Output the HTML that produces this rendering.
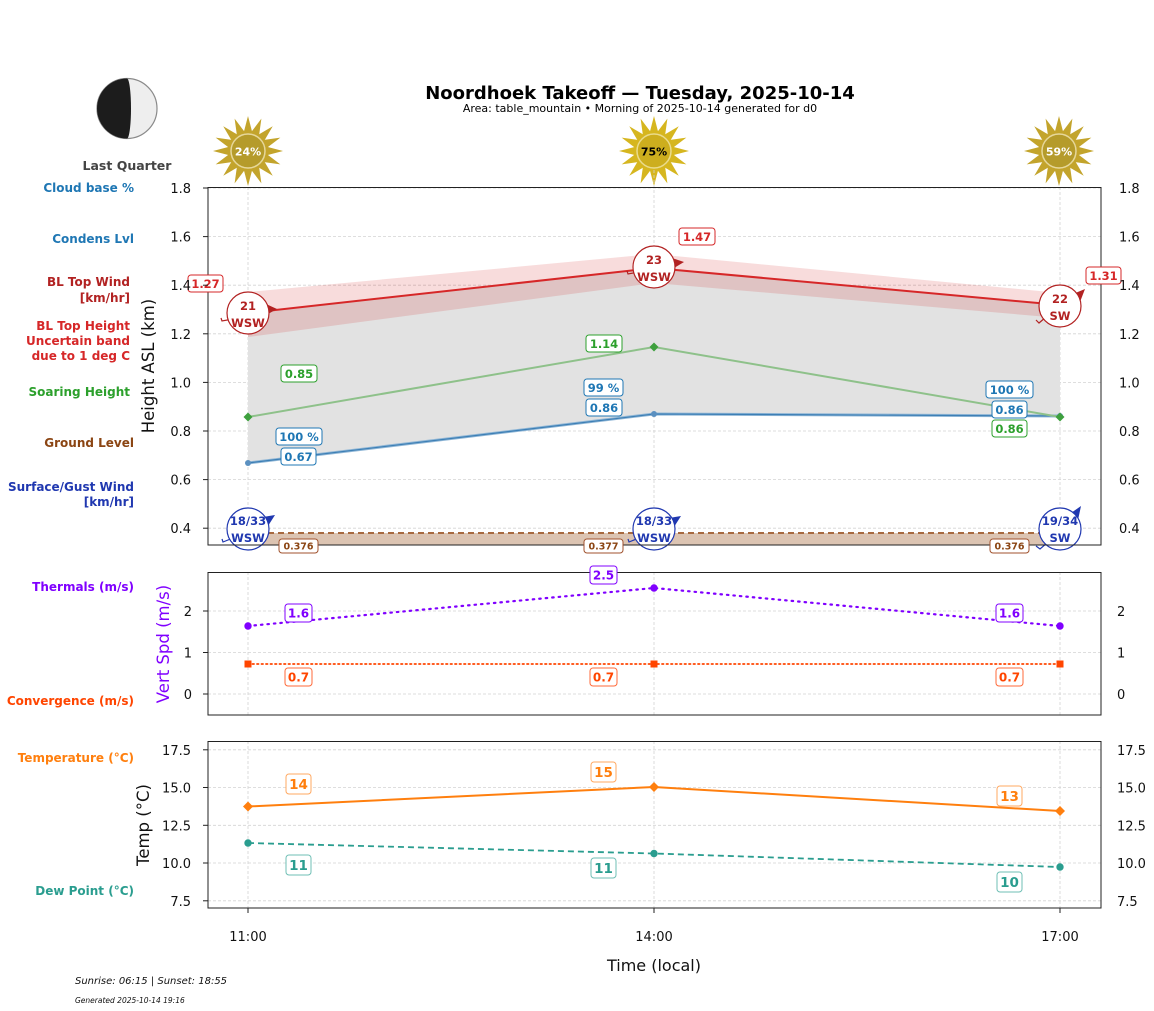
<!DOCTYPE html>
<html><head><meta charset="utf-8"><style>
html,body{margin:0;padding:0;background:#fff;}
svg{display:block;font-family:"DejaVu Sans","Liberation Sans",sans-serif;}
.b{font-weight:bold;}
</style></head><body>
<svg width="1154" height="1011" viewBox="0 0 1154 1011" xmlns="http://www.w3.org/2000/svg">
<defs>
<polygon id="ray" points="0,-35 -5.2,-15 5.2,-15"/>
<g id="rays">
<use href="#ray" transform="rotate(0)"/><use href="#ray" transform="rotate(22.5)"/><use href="#ray" transform="rotate(45)"/><use href="#ray" transform="rotate(67.5)"/>
<use href="#ray" transform="rotate(90)"/><use href="#ray" transform="rotate(112.5)"/><use href="#ray" transform="rotate(135)"/><use href="#ray" transform="rotate(157.5)"/>
<use href="#ray" transform="rotate(180)"/><use href="#ray" transform="rotate(202.5)"/><use href="#ray" transform="rotate(225)"/><use href="#ray" transform="rotate(247.5)"/>
<use href="#ray" transform="rotate(270)"/><use href="#ray" transform="rotate(292.5)"/><use href="#ray" transform="rotate(315)"/><use href="#ray" transform="rotate(337.5)"/>
</g>
</defs>

<!-- Title -->
<text x="640" y="99" text-anchor="middle" class="b" font-size="18">Noordhoek Takeoff — Tuesday, 2025-10-14</text>
<text x="640" y="112" text-anchor="middle" font-size="11">Area: table_mountain • Morning of 2025-10-14 generated for d0</text>

<!-- Moon -->
<circle cx="127" cy="108.5" r="30" fill="#eeeeee" stroke="#8a8a8a" stroke-width="1.2"/>
<path d="M127,78.5 A30,30 0 0 0 127,138.5 A4,30 0 0 0 127,78.5 Z" fill="#1c1c1c"/>
<text x="127" y="170" text-anchor="middle" class="b" font-size="12.5" fill="#444">Last Quarter</text>

<!-- Suns -->
<g transform="translate(248,151)"><use href="#rays" fill="#c3a42c"/><circle r="17" fill="#b59b2b" stroke="#e6d79a" stroke-width="1.5"/><text y="4.5" text-anchor="middle" class="b" font-size="11" fill="#fff">24%</text></g>
<g transform="translate(654,151)"><use href="#rays" fill="#d6b61f"/><circle r="17" fill="#cdae1e" stroke="#eadb8c" stroke-width="1.5"/><text y="4.5" text-anchor="middle" class="b" font-size="11" fill="#000">75%</text></g>
<g transform="translate(1059,151)"><use href="#rays" fill="#c3a42c"/><circle r="17" fill="#b59b2b" stroke="#e6d79a" stroke-width="1.5"/><text y="4.5" text-anchor="middle" class="b" font-size="11" fill="#fff">59%</text></g>

<!-- Left labels -->
<g class="b" font-size="12" text-anchor="end">
<text x="134" y="192" fill="#1f77b4">Cloud base %</text>
<text x="134" y="243" fill="#1f77b4">Condens Lvl</text>
<text x="130" y="286" fill="#b22222">BL Top Wind</text>
<text x="130" y="302" fill="#b22222">[km/hr]</text>
<text x="130" y="330" fill="#d62728">BL Top Height</text>
<text x="130" y="345" fill="#d62728">Uncertain band</text>
<text x="130" y="360" fill="#d62728">due to 1 deg C</text>
<text x="130" y="396" fill="#2ca02c">Soaring Height</text>
<text x="134" y="447" fill="#8b4513">Ground Level</text>
<text x="134" y="491" fill="#2038b0">Surface/Gust Wind</text>
<text x="134" y="506" fill="#2038b0">[km/hr]</text>
<text x="134" y="591" fill="#8000ff">Thermals (m/s)</text>
<text x="134" y="705" fill="#ff4500">Convergence (m/s)</text>
<text x="134" y="762" fill="#ff7f0e">Temperature (°C)</text>
<text x="134" y="895" fill="#2a9d8f">Dew Point (°C)</text>
</g>

<!-- ============ MAIN PANEL ============ -->
<g stroke="#d3d3d3" stroke-width="0.8" stroke-dasharray="3,2" fill="none">
<line x1="208" x2="1101" y1="188" y2="188"/><line x1="208" x2="1101" y1="236.6" y2="236.6"/><line x1="208" x2="1101" y1="285.2" y2="285.2"/>
<line x1="208" x2="1101" y1="333.8" y2="333.8"/><line x1="208" x2="1101" y1="382.4" y2="382.4"/><line x1="208" x2="1101" y1="431" y2="431"/>
<line x1="208" x2="1101" y1="479.6" y2="479.6"/><line x1="208" x2="1101" y1="528.2" y2="528.2"/>
<line x1="248" x2="248" y1="187" y2="545"/><line x1="654" x2="654" y1="170" y2="545"/><line x1="1060" x2="1060" y1="187" y2="545"/>
</g>
<polygon points="248,313 654,268 1060,305 1060,416 654,414 248,463" fill="#e2e2e2"/>
<polygon points="248,292 654,254 1060,293 1060,318 654,283 248,337" fill="#d62728" fill-opacity="0.16"/>
<rect x="248" y="533" width="812" height="12" fill="#dcc4b2"/>
<line x1="248" x2="1060" y1="533" y2="533" stroke="#a7693f" stroke-width="2" stroke-dasharray="6,4"/>
<polyline points="248,463 654,414 1060,416" fill="none" stroke="#8fb6d6" stroke-width="3"/>
<polyline points="248,463 654,414 1060,416" fill="none" stroke="#3d7fb5" stroke-width="1.2"/>
<circle cx="248" cy="463" r="3" fill="#5b90c0"/><circle cx="654" cy="414" r="3" fill="#5b90c0"/><circle cx="1060" cy="416" r="3" fill="#5b90c0"/>
<polyline points="248,417 654,347 1060,417" fill="none" stroke="#8ec18a" stroke-width="2"/>
<g fill="#3ea03e"><polygon points="248,412.5 252.5,417 248,421.5 243.5,417"/><polygon points="654,342.5 658.5,347 654,351.5 649.5,347"/><polygon points="1060,412.5 1064.5,417 1060,421.5 1055.5,417"/></g>
<polyline points="248,313 654,268 1060,305" fill="none" stroke="#d62728" stroke-width="2"/>

<g stroke="#b22222" stroke-width="1.2" fill="none">
<polyline points="221,318 222,321 233,319"/>
<polyline points="627,271 628,274 639,272"/>
<polyline points="1036,320 1039,323 1046,317"/>
</g>
<g fill="#b22222">
<polygon points="277,309 266,304 268,314"/>
<polygon points="684,262 672,258 674,268"/>
<polygon points="1085,289 1073,294 1080,302"/>
</g>
<g stroke="#b22222" stroke-width="1.2" fill="#fff">
<circle cx="248" cy="313" r="21"/><circle cx="654" cy="267" r="21"/><circle cx="1060" cy="306" r="21"/>
</g>
<g class="b" font-size="11.5" fill="#b22222" text-anchor="middle">
<text x="248" y="310">21</text><text x="248" y="327">WSW</text>
<text x="654" y="264">23</text><text x="654" y="281">WSW</text>
<text x="1060" y="303">22</text><text x="1060" y="320">SW</text>
</g>

<g stroke="#2038b0" stroke-width="1.2" fill="none">
<polyline points="222,539 223,542 233,538"/>
<polyline points="628,539 629,542 639,538"/>
<polyline points="1036,546 1040,549 1047,543"/>
</g>
<g fill="#2038b0">
<polygon points="275,515 263,517 268,526"/>
<polygon points="681,516 669,518 674,527"/>
<polygon points="1081,506 1071,513 1078,520"/>
</g>
<g stroke="#2038b0" stroke-width="1.2" fill="#fff">
<circle cx="248" cy="529" r="21"/><circle cx="654" cy="529" r="21"/><circle cx="1060" cy="529" r="21"/>
</g>
<g class="b" font-size="11.5" fill="#2038b0" text-anchor="middle">
<text x="248" y="525">18/33</text><text x="248" y="542">WSW</text>
<text x="654" y="525">18/33</text><text x="654" y="542">WSW</text>
<text x="1060" y="525">19/34</text><text x="1060" y="542">SW</text>
</g>

<rect x="208" y="187.5" width="893" height="357.5" fill="none" stroke="#222" stroke-width="1"/>

<g class="b" font-size="11.5" text-anchor="middle">
<rect x="188" y="275" width="35" height="17" rx="3" fill="#fff" stroke="#d62728"/><text x="205.5" y="288" fill="#d62728">1.27</text>
<rect x="679" y="228" width="36" height="17" rx="3" fill="#fff" stroke="#d62728"/><text x="697" y="241" fill="#d62728">1.47</text>
<rect x="1086" y="267" width="35" height="17" rx="3" fill="#fff" stroke="#d62728"/><text x="1103.5" y="280" fill="#d62728">1.31</text>

<rect x="281" y="365" width="36" height="17" rx="3" fill="#fff" stroke="#2ca02c"/><text x="299" y="378" fill="#2ca02c">0.85</text>
<rect x="586" y="335" width="36" height="17" rx="3" fill="#fff" stroke="#2ca02c"/><text x="604" y="348" fill="#2ca02c">1.14</text>
<rect x="992" y="420" width="35" height="17" rx="3" fill="#fff" stroke="#2ca02c"/><text x="1009.5" y="433" fill="#2ca02c">0.86</text>

<rect x="276" y="428" width="46" height="17" rx="3" fill="#fff" stroke="#1f77b4"/><text x="299" y="441" fill="#1f77b4">100 %</text>
<rect x="281" y="448" width="35" height="17" rx="3" fill="#fff" stroke="#1f77b4"/><text x="298.5" y="461" fill="#1f77b4">0.67</text>
<rect x="584" y="379" width="39" height="17" rx="3" fill="#fff" stroke="#1f77b4"/><text x="603.5" y="392" fill="#1f77b4">99 %</text>
<rect x="586" y="399" width="36" height="17" rx="3" fill="#fff" stroke="#1f77b4"/><text x="604" y="412" fill="#1f77b4">0.86</text>
<rect x="986" y="381" width="47" height="17" rx="3" fill="#fff" stroke="#1f77b4"/><text x="1009.5" y="394" fill="#1f77b4">100 %</text>
<rect x="992" y="401" width="35" height="17" rx="3" fill="#fff" stroke="#1f77b4"/><text x="1009.5" y="414" fill="#1f77b4">0.86</text>
</g>
<g class="b" font-size="9.5" text-anchor="middle" fill="#8b4513">
<rect x="279" y="539" width="39" height="14" rx="3" fill="#fff" stroke="#a0522d"/><text x="298.5" y="549.5">0.376</text>
<rect x="584" y="539" width="39" height="14" rx="3" fill="#fff" stroke="#a0522d"/><text x="603.5" y="549.5">0.377</text>
<rect x="990" y="539" width="39" height="14" rx="3" fill="#fff" stroke="#a0522d"/><text x="1009.5" y="549.5">0.376</text>
</g>

<g stroke="#222" stroke-width="1">
<line x1="203" x2="208" y1="188" y2="188"/><line x1="203" x2="208" y1="236.6" y2="236.6"/><line x1="203" x2="208" y1="285.2" y2="285.2"/>
<line x1="203" x2="208" y1="333.8" y2="333.8"/><line x1="203" x2="208" y1="382.4" y2="382.4"/><line x1="203" x2="208" y1="431" y2="431"/>
<line x1="203" x2="208" y1="479.6" y2="479.6"/><line x1="203" x2="208" y1="528.2" y2="528.2"/>
</g>
<g font-size="13" fill="#111">
<g text-anchor="end">
<text x="191" y="193">1.8</text><text x="191" y="241.6">1.6</text><text x="191" y="290.2">1.4</text><text x="191" y="338.8">1.2</text>
<text x="191" y="387.4">1.0</text><text x="191" y="436">0.8</text><text x="191" y="484.6">0.6</text><text x="191" y="533.2">0.4</text>
</g>
<text x="1119" y="193">1.8</text><text x="1119" y="241.6">1.6</text><text x="1119" y="290.2">1.4</text><text x="1119" y="338.8">1.2</text>
<text x="1119" y="387.4">1.0</text><text x="1119" y="436">0.8</text><text x="1119" y="484.6">0.6</text><text x="1119" y="533.2">0.4</text>
</g>
<text transform="translate(154,366) rotate(-90)" text-anchor="middle" font-size="16.5" fill="#111">Height ASL (km)</text>

<!-- ============ PANEL 2 ============ -->
<g stroke="#d3d3d3" stroke-width="0.8" stroke-dasharray="3,2" fill="none">
<line x1="208" x2="1101" y1="611" y2="611"/><line x1="208" x2="1101" y1="652.5" y2="652.5"/><line x1="208" x2="1101" y1="694" y2="694"/>
<line x1="248" x2="248" y1="572" y2="715"/><line x1="654" x2="654" y1="572" y2="715"/><line x1="1060" x2="1060" y1="572" y2="715"/>
</g>
<polyline points="248,626 654,588 1060,626" fill="none" stroke="#8000ff" stroke-width="2.2" stroke-dasharray="1.5,5" stroke-linecap="round"/>
<g fill="#8000ff"><circle cx="248" cy="626" r="3.7"/><circle cx="654" cy="588" r="3.7"/><circle cx="1060" cy="626" r="3.7"/></g>
<line x1="248" x2="1060" y1="664" y2="664" stroke="#ff4500" stroke-width="1.8" stroke-dasharray="1.5,3" stroke-linecap="round"/>
<g fill="#ff4500"><rect x="244.5" y="660.5" width="7" height="7"/><rect x="650.5" y="660.5" width="7" height="7"/><rect x="1056.5" y="660.5" width="7" height="7"/></g>
<rect x="208" y="572.5" width="893" height="142.5" fill="none" stroke="#222" stroke-width="1"/>
<g class="b" font-size="12" text-anchor="middle">
<rect x="285" y="604" width="27" height="18" rx="3" fill="#fff" stroke="#8000ff"/><text x="298.5" y="617.5" fill="#8000ff">1.6</text>
<rect x="590" y="566" width="27" height="18" rx="3" fill="#fff" stroke="#8000ff"/><text x="603.5" y="579.5" fill="#8000ff">2.5</text>
<rect x="996" y="604" width="27" height="18" rx="3" fill="#fff" stroke="#8000ff"/><text x="1009.5" y="617.5" fill="#8000ff">1.6</text>
<rect x="285" y="668" width="27" height="18" rx="3" fill="#fff" stroke="#ff6a3a"/><text x="298.5" y="681.5" fill="#ff4500">0.7</text>
<rect x="590" y="668" width="27" height="18" rx="3" fill="#fff" stroke="#ff6a3a"/><text x="603.5" y="681.5" fill="#ff4500">0.7</text>
<rect x="996" y="668" width="27" height="18" rx="3" fill="#fff" stroke="#ff6a3a"/><text x="1009.5" y="681.5" fill="#ff4500">0.7</text>
</g>
<g stroke="#222"><line x1="203" x2="208" y1="611" y2="611"/><line x1="203" x2="208" y1="652.5" y2="652.5"/><line x1="203" x2="208" y1="694" y2="694"/></g>
<g font-size="13" fill="#111">
<text x="192" y="616" text-anchor="end">2</text><text x="192" y="657.5" text-anchor="end">1</text><text x="192" y="699" text-anchor="end">0</text>
<text x="1117" y="616">2</text><text x="1117" y="657.5">1</text><text x="1117" y="699">0</text>
</g>
<text transform="translate(169,644) rotate(-90)" text-anchor="middle" font-size="16.5" fill="#8000ff">Vert Spd (m/s)</text>

<!-- ============ PANEL 3 ============ -->
<g stroke="#d3d3d3" stroke-width="0.8" stroke-dasharray="3,2" fill="none">
<line x1="208" x2="1101" y1="749.8" y2="749.8"/><line x1="208" x2="1101" y1="787.5" y2="787.5"/><line x1="208" x2="1101" y1="825.3" y2="825.3"/>
<line x1="208" x2="1101" y1="863" y2="863"/><line x1="208" x2="1101" y1="900.8" y2="900.8"/>
<line x1="248" x2="248" y1="741" y2="908"/><line x1="654" x2="654" y1="741" y2="908"/><line x1="1060" x2="1060" y1="741" y2="908"/>
</g>
<polyline points="248,806.5 654,787 1060,811" fill="none" stroke="#ff7f0e" stroke-width="2"/>
<g fill="#ff7f0e"><polygon points="248,801.5 253,806.5 248,811.5 243,806.5"/><polygon points="654,782 659,787 654,792 649,787"/><polygon points="1060,806 1065,811 1060,816 1055,811"/></g>
<polyline points="248,843 654,853.5 1060,867" fill="none" stroke="#2a9d8f" stroke-width="1.8" stroke-dasharray="6,4"/>
<g fill="#2a9d8f"><circle cx="248" cy="843" r="3.7"/><circle cx="654" cy="853.5" r="3.7"/><circle cx="1060" cy="867" r="3.7"/></g>
<rect x="208" y="741.5" width="893" height="166.5" fill="none" stroke="#222" stroke-width="1"/>
<g class="b" font-size="13.5" text-anchor="middle">
<rect x="286" y="774" width="25" height="20" rx="3" fill="#fff" stroke="#ffa860"/><text x="298.5" y="789" fill="#ff7f0e">14</text>
<rect x="591" y="762" width="25" height="20" rx="3" fill="#fff" stroke="#ffa860"/><text x="603.5" y="777" fill="#ff7f0e">15</text>
<rect x="997" y="786" width="25" height="20" rx="3" fill="#fff" stroke="#ffa860"/><text x="1009.5" y="801" fill="#ff7f0e">13</text>
<rect x="286" y="855" width="25" height="20" rx="3" fill="#fff" stroke="#6fbfb5"/><text x="298.5" y="870" fill="#2a9d8f">11</text>
<rect x="591" y="858" width="25" height="20" rx="3" fill="#fff" stroke="#6fbfb5"/><text x="603.5" y="873" fill="#2a9d8f">11</text>
<rect x="997" y="872" width="25" height="20" rx="3" fill="#fff" stroke="#6fbfb5"/><text x="1009.5" y="887" fill="#2a9d8f">10</text>
</g>
<g stroke="#222">
<line x1="203" x2="208" y1="749.8" y2="749.8"/><line x1="203" x2="208" y1="787.5" y2="787.5"/><line x1="203" x2="208" y1="825.3" y2="825.3"/>
<line x1="203" x2="208" y1="863" y2="863"/><line x1="203" x2="208" y1="900.8" y2="900.8"/>
<line x1="248" x2="248" y1="908" y2="913"/><line x1="654" x2="654" y1="908" y2="913"/><line x1="1060" x2="1060" y1="908" y2="913"/>
</g>
<g font-size="13" fill="#111">
<g text-anchor="end">
<text x="191" y="754.8">17.5</text><text x="191" y="792.5">15.0</text><text x="191" y="830.3">12.5</text><text x="191" y="868">10.0</text><text x="191" y="905.8">7.5</text>
</g>
<text x="1117" y="754.8">17.5</text><text x="1117" y="792.5">15.0</text><text x="1117" y="830.3">12.5</text><text x="1117" y="868">10.0</text><text x="1117" y="905.8">7.5</text>
<g text-anchor="middle">
<text x="248" y="941">11:00</text><text x="654" y="941">14:00</text><text x="1060" y="941">17:00</text>
</g>
</g>
<text transform="translate(149,825) rotate(-90)" text-anchor="middle" font-size="16.5" fill="#111">Temp (°C)</text>
<text x="654" y="971" text-anchor="middle" font-size="16" fill="#111">Time (local)</text>

<text x="75" y="984" font-size="10" font-style="italic" fill="#111">Sunrise: 06:15 | Sunset: 18:55</text>
<text x="75" y="1003" font-size="7.5" font-style="italic" fill="#111">Generated 2025-10-14 19:16</text>
</svg>
</body></html>
